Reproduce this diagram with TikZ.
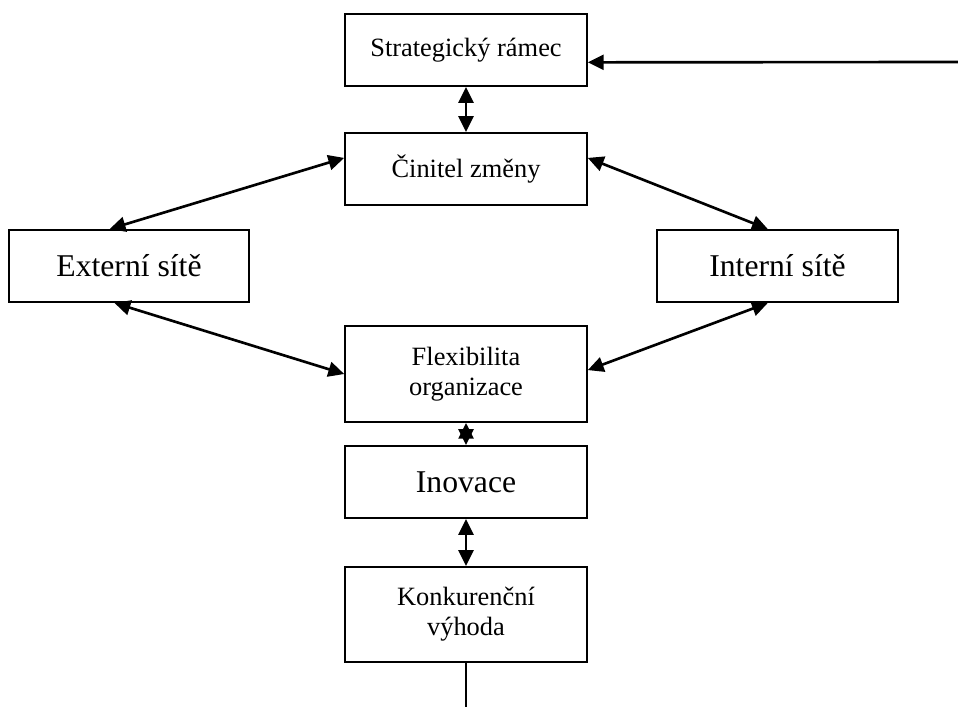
\documentclass[tikz,border=0pt]{standalone}
\usepackage{fontspec}
\setmainfont{Liberation Serif}
\usetikzlibrary{arrows.meta,calc}

\begin{document}
\begin{tikzpicture}[x=0.01597cm,y=-0.01597cm,
  box/.style={draw,line width=0.9pt,inner sep=0pt,align=center,
    minimum width=3.86cm,minimum height=1.15cm,font=\fontsize{12}{13.6}\selectfont},
  bigbox/.style={box,font=\fontsize{14.4}{17}\selectfont},
  tallbox/.style={box,minimum height=1.53cm},
  link/.style={line width=1.2pt,{Triangle[length=7.2pt,width=6.8pt]}-{Triangle[length=7.2pt,width=6.8pt]}},
  feed/.style={line width=1.2pt,-{Triangle[length=7.2pt,width=6.8pt]}}]
\useasboundingbox (0,0) rectangle (958,707);
%%%%%%%%%%%%%%%%%%%%%%%%%%%%%%%%
%% boxes
%%%%%%%%%%%%%%%%%%%%%%%%%%%%%%%%
\node[box]     (strat)   at (466,50)    {Strategický rámec};
\node[box]     (cinitel) at (466,169)   {Činitel změny};
\node[bigbox,minimum width=3.83cm] (ext) at (129,266) {Externí sítě};
\node[bigbox,minimum width=3.85cm] (int) at (777.5,266) {Interní sítě};
\node[tallbox] (flex)    at (466,374)   {Flexibilita\\organizace};
\node[bigbox]  (inov)    at (466,482)   {Inovace};
\node[tallbox,minimum height=1.52cm] (konk) at (466,614.5) {Konkurenční\\výhoda};
%
\coordinate (vstup) at (958,62);
\coordinate (vystup) at (466,707);
%%%%%%%%%%%%%%%%%%%%%%%%%%%%%%%%
%% connectors
%%%%%%%%%%%%%%%%%%%%%%%%%%%%%%%%
\draw[feed] (vstup) -- ($(strat.north east)!0.667!(strat.south east)$);
\draw[link] (strat.south) -- (cinitel.north);

\draw[link] ($(ext.north west)!0.42!(ext.north east)$) -- ($(cinitel.north west)!0.35!(cinitel.south west)$);
\draw[link] ($(cinitel.north east)!0.35!(cinitel.south east)$) -- ($(int.north west)!0.46!(int.north east)$);

\draw[link] ($(ext.south west)!0.44!(ext.south east)$) -- (flex.west);
\draw[link] ($(int.south west)!0.46!(int.south east)$) -- ($(flex.north east)!0.46!(flex.south east)$);

\draw[link] (flex.south) -- (inov.north);
\draw[link] (inov.south) -- (konk.north);
\draw[line width=0.6pt] (konk.south) -- (vystup);
\end{tikzpicture}
\end{document}
